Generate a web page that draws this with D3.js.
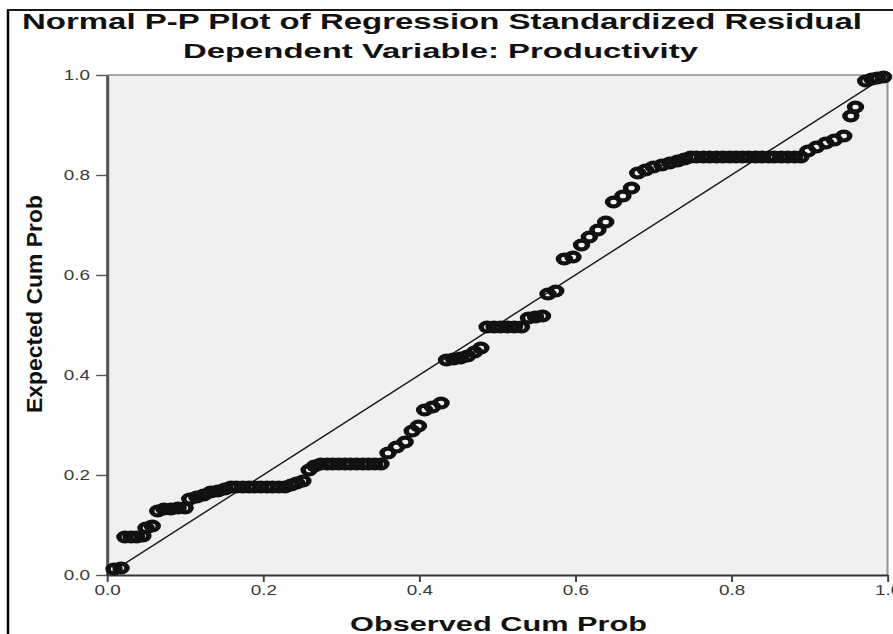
<!DOCTYPE html>
<html>
<head>
<meta charset="utf-8">
<script src="https://cdn.jsdelivr.net/npm/d3@7"></script>
<style>
  html, body { margin: 0; padding: 0; background: #ffffff; }
  svg { display: block; }
  text { font-family: "Liberation Sans", Arial, Helvetica, sans-serif; }
</style>
</head>
<body>
<div id="chart"></div>
<script>
// ---------------- data ----------------
const titleText = "Normal P-P Plot of Regression Standardized Residual";
const subtitleText = "Dependent Variable: Productivity";
const xLabelText = "Observed Cum Prob";
const yLabelText = "Expected Cum Prob";

const xTicks = [0.0, 0.2, 0.4, 0.6, 0.8, 1.0];
const yTicks = [0.0, 0.2, 0.4, 0.6, 0.8, 1.0];

const refLine = [0, 1];

const observedCumProb = [
  0.009, 0.018,
  0.023, 0.031, 0.038, 0.046,
  0.050, 0.058,
  0.065, 0.073, 0.082, 0.091, 0.100,
  0.106, 0.115, 0.124,
  0.133, 0.142, 0.151,
  0.159, 0.166, 0.174, 0.182, 0.189, 0.197, 0.205, 0.212, 0.220, 0.228,
  0.236, 0.243, 0.251,
  0.259, 0.266,
  0.274, 0.282, 0.289, 0.297, 0.305, 0.312, 0.320, 0.328, 0.335, 0.343, 0.351,
  0.360, 0.371, 0.382, 0.391, 0.399,
  0.407, 0.417, 0.428,
  0.435, 0.444, 0.453, 0.462, 0.471, 0.479,
  0.487, 0.496, 0.504, 0.513, 0.522, 0.531,
  0.540, 0.549, 0.558,
  0.565, 0.575,
  0.586, 0.597,
  0.608, 0.618, 0.629, 0.639,
  0.649, 0.661, 0.672,
  0.680, 0.690, 0.700, 0.711, 0.721, 0.731, 0.740,
  0.748, 0.755, 0.764, 0.772, 0.781, 0.789, 0.798, 0.806, 0.814, 0.822, 0.831, 0.839, 0.848, 0.855, 0.864, 0.872, 0.881, 0.889,
  0.898, 0.909, 0.921, 0.932, 0.944,
  0.953, 0.959,
  0.972, 0.980, 0.987, 0.995
];

const expectedCumProb = [
  0.012, 0.014,
  0.076, 0.076, 0.076, 0.078,
  0.094, 0.098,
  0.128, 0.132, 0.132, 0.134, 0.134,
  0.152, 0.156, 0.160,
  0.166, 0.168, 0.172,
  0.176, 0.176, 0.176, 0.176, 0.176, 0.176, 0.176, 0.176, 0.176, 0.176,
  0.180, 0.184, 0.188,
  0.210, 0.218,
  0.222, 0.222, 0.222, 0.222, 0.222, 0.222, 0.222, 0.222, 0.222, 0.222, 0.222,
  0.244, 0.256, 0.266, 0.288, 0.298,
  0.330, 0.336, 0.344,
  0.430, 0.432, 0.434, 0.438, 0.446, 0.454,
  0.496, 0.496, 0.496, 0.496, 0.496, 0.496,
  0.514, 0.516, 0.518,
  0.562, 0.568,
  0.632, 0.636,
  0.660, 0.676, 0.690, 0.706,
  0.746, 0.758, 0.774,
  0.804, 0.810, 0.816, 0.820, 0.824, 0.828, 0.832,
  0.836, 0.836, 0.836, 0.836, 0.836, 0.836, 0.836, 0.836, 0.836, 0.836, 0.836, 0.836, 0.836, 0.836, 0.836, 0.836, 0.836, 0.836,
  0.848, 0.856, 0.864, 0.870, 0.878,
  0.918, 0.936,
  0.988, 0.992, 0.994, 0.996
];

// ---------------- layout ----------------
const W = 893, H = 634;
const sx = 1.35;              // the original picture is stretched horizontally
const vbW = W / sx;
const X = px => px / sx;      // screen px -> drawing units (horizontal)

const plot = { left: X(107), right: X(887.5), top: 75, bottom: 575 };

const svg = d3.select("#chart").append("svg")
  .attr("width", W).attr("height", H)
  .attr("viewBox", `0 0 ${vbW} ${H}`)
  .attr("preserveAspectRatio", "none");

svg.append("rect").attr("x", 0).attr("y", 0).attr("width", vbW).attr("height", H).attr("fill", "#ffffff");

// outer frame (left & top visible)
svg.append("rect")
  .attr("x", X(8)).attr("y", 10)
  .attr("width", vbW + 20).attr("height", H + 20)
  .attr("fill", "none").attr("stroke", "#000").attr("stroke-width", 1.8);

const x = d3.scaleLinear().domain([0, 1]).range([plot.left, plot.right]);
const y = d3.scaleLinear().domain([0, 1]).range([plot.bottom, plot.top]);

// plot background
svg.append("rect")
  .attr("x", x(0)).attr("y", y(1))
  .attr("width", x(1) - x(0)).attr("height", y(0) - y(1))
  .attr("fill", "#f0f0f0");

// top and right frame of plot area
svg.append("line")
  .attr("x1", x(0)).attr("x2", x(1)).attr("y1", y(1)).attr("y2", y(1))
  .attr("stroke", "#8a8a8a").attr("stroke-width", 1.4);
svg.append("line")
  .attr("x1", x(1)).attr("x2", x(1)).attr("y1", y(1)).attr("y2", y(0))
  .attr("stroke", "#9a9a9a").attr("stroke-width", 1.6);

// axes
const fmt = d3.format(".1f");
const gx = svg.append("g")
  .attr("transform", `translate(0,${plot.bottom})`)
  .call(d3.axisBottom(x).tickValues(xTicks).tickFormat(fmt).tickSize(7).tickSizeOuter(0).tickPadding(3));
const gy = svg.append("g")
  .attr("transform", `translate(${plot.left},0)`)
  .call(d3.axisLeft(y).tickValues(yTicks).tickFormat(fmt).tickSize(8).tickSizeOuter(0).tickPadding(4.5));

gx.select(".domain").attr("stroke", "#333").attr("stroke-width", 1.8);
gx.selectAll(".tick line").attr("stroke", "#444").attr("stroke-width", 1.5);
gy.select(".domain").attr("stroke", "#555").attr("stroke-width", 2.3);
gy.selectAll(".tick line").attr("stroke", "#555").attr("stroke-width", 1.4);
[gx, gy].forEach(g => g.selectAll(".tick text")
  .attr("font-size", 14)
  .attr("fill", "#3a3a3a")
  .style("font-family", "'Liberation Sans', Arial, sans-serif"));

// reference diagonal
const line = d3.line().x(d => x(d)).y(d => y(d));
svg.append("path")
  .datum(refLine)
  .attr("d", line)
  .attr("fill", "none")
  .attr("stroke", "#1a1a1a")
  .attr("stroke-width", 1.3);

// points
const pts = observedCumProb.map((o, i) => ({ o, e: expectedCumProb[i] }));
svg.append("g").selectAll("circle")
  .data(pts)
  .join("circle")
  .attr("cx", d => x(d.o))
  .attr("cy", d => y(d.e))
  .attr("r", 4.4)
  .attr("fill", "none")
  .attr("stroke", "#111")
  .attr("stroke-width", 4.1);

// titles
svg.append("text")
  .attr("x", X(442)).attr("y", 29)
  .attr("text-anchor", "middle")
  .attr("font-size", 21.5).attr("font-weight", "bold")
  .attr("textLength", X(840)).attr("lengthAdjust", "spacingAndGlyphs")
  .attr("fill", "#111")
  .text(titleText);

svg.append("text")
  .attr("x", X(440.5)).attr("y", 58.5)
  .attr("text-anchor", "middle")
  .attr("font-size", 20).attr("font-weight", "bold")
  .attr("textLength", X(515)).attr("lengthAdjust", "spacingAndGlyphs")
  .attr("fill", "#111")
  .text(subtitleText);

svg.append("text")
  .attr("x", X(498.5)).attr("y", 631)
  .attr("text-anchor", "middle")
  .attr("font-size", 20).attr("font-weight", "bold")
  .attr("textLength", X(297)).attr("lengthAdjust", "spacingAndGlyphs")
  .attr("fill", "#111")
  .text(xLabelText);

svg.append("text")
  .attr("transform", `translate(${X(42)},${304}) rotate(-90)`)
  .attr("text-anchor", "middle")
  .attr("font-size", 16).attr("font-weight", "bold")
  .attr("textLength", 218).attr("lengthAdjust", "spacingAndGlyphs")
  .attr("fill", "#111")
  .text(yLabelText);
</script>
</body>
</html>
